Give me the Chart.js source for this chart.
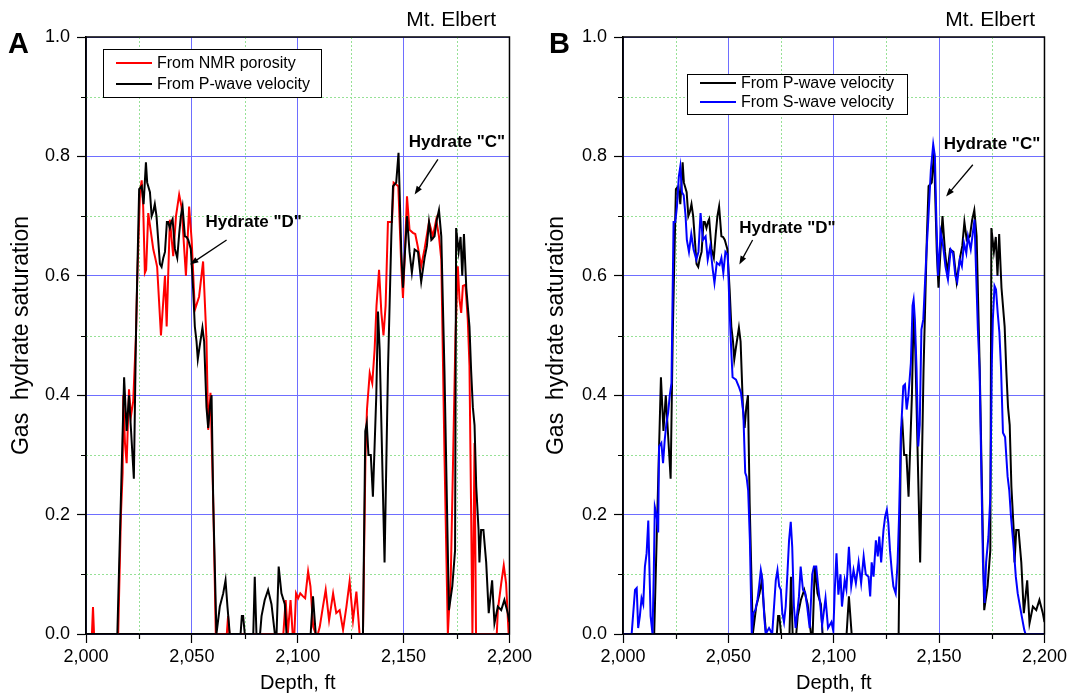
<!DOCTYPE html>
<html>
<head>
<meta charset="utf-8">
<script src="https://cdn.jsdelivr.net/npm/chart.js@4.4.1/dist/chart.umd.min.js"></script>
<style>
  body { margin: 0; background: #fff; }
  .panel { position: absolute; top: 0; width: 535px; height: 699px; }
</style>
</head>
<body>
<div class="panel" style="left:0"><canvas id="chartA" width="535" height="699"></canvas></div>
<div class="panel" style="left:535px"><canvas id="chartB" width="535" height="699"></canvas></div>
<script>
// [depth ft, gas hydrate saturation]
const pWave = [[2000,0],[2014.8,0],[2016.8,0.27],[2018,0.43],[2019.2,0.34],[2020.3,0.40],[2022.6,0.26],[2023.6,0.50],[2024.2,0.60],[2025.1,0.745],[2026.3,0.75],[2027.2,0.72],[2028.3,0.79],[2028.9,0.756],[2030.2,0.74],[2031,0.70],[2031.8,0.708],[2032.5,0.72],[2033.3,0.70],[2034.1,0.66],[2034.9,0.62],[2035.7,0.615],[2036.5,0.63],[2037.3,0.64],[2038.2,0.69],[2038.8,0.69],[2039.6,0.68],[2040.3,0.69],[2040.9,0.695],[2042,0.645],[2043.1,0.63],[2044,0.67],[2044.8,0.70],[2045.6,0.716],[2046.7,0.666],[2047.5,0.665],[2048.3,0.66],[2049.5,0.645],[2050.6,0.577],[2051.4,0.515],[2052.2,0.49],[2052.8,0.46],[2053.6,0.48],[2055,0.513],[2055.8,0.49],[2056.9,0.38],[2057.7,0.345],[2058.5,0.38],[2059.3,0.40],[2060.1,0.22],[2061.6,0],[2063.2,0.046],[2064.8,0.068],[2065.9,0.09],[2066.8,0.046],[2067.9,0],[2073,0],[2073.6,0.03],[2074.2,0.03],[2075,0],[2079,0],[2079.7,0.096],[2080.5,0],[2082.2,0],[2082.9,0.03],[2084.4,0.057],[2086,0.074],[2087.6,0.05],[2089.2,0],[2090,0],[2091,0.113],[2092.3,0.068],[2093.9,0.05],[2094.7,0],[2106.1,0],[2107.2,0.063],[2108.5,0],[2130.8,0],[2131.9,0.34],[2132.6,0.353],[2133.4,0.30],[2134.5,0.30],[2135.5,0.23],[2137.1,0.40],[2137.9,0.54],[2138.7,0.476],[2141,0.12],[2142.6,0.44],[2144.2,0.666],[2145,0.75],[2146.5,0.756],[2147.6,0.806],[2148.9,0.64],[2149.7,0.58],[2151.6,0.70],[2152.8,0.64],[2153.9,0.605],[2155.2,0.644],[2156.8,0.64],[2158.3,0.59],[2159.9,0.63],[2161,0.65],[2162,0.69],[2163.1,0.66],[2164.6,0.666],[2165.7,0.694],[2166.7,0.71],[2167.8,0.666],[2169.3,0.44],[2171.4,0.04],[2173,0.08],[2174.3,0.14],[2174.8,0.68],[2176,0.64],[2176.9,0.665],[2177.7,0.60],[2178.5,0.67],[2179.6,0.58],[2181.1,0.515],[2181.9,0.44],[2182.7,0.38],[2183.5,0.35],[2184.3,0.247],[2185.4,0.174],[2185.8,0.12],[2186.6,0.174],[2187.7,0.174],[2189,0.12],[2190.2,0.035],[2191.8,0.09],[2192.9,0.018],[2194.5,0.046],[2196.1,0.04],[2197.6,0.057],[2199.2,0.035],[2200,0.02]];

const nmr = [[2000,0],[2002.8,0],[2003.3,0.045],[2003.8,0],[2015.2,0],[2016.5,0.2],[2017.3,0.27],[2017.6,0.40],[2018.4,0.32],[2019.2,0.286],[2020.3,0.41],[2021.2,0.364],[2022.3,0.39],[2023.6,0.50],[2024.2,0.593],[2025.5,0.74],[2026.3,0.76],[2027,0.716],[2027.8,0.605],[2028.4,0.61],[2029.4,0.705],[2030.5,0.677],[2031.8,0.644],[2032.7,0.63],[2033.6,0.615],[2035.4,0.50],[2037.3,0.60],[2038.1,0.515],[2039.6,0.694],[2041.2,0.633],[2042.5,0.70],[2044,0.736],[2045.1,0.716],[2047.2,0.60],[2048.7,0.716],[2049.9,0.66],[2051.4,0.543],[2053.4,0.565],[2055.3,0.624],[2056.9,0.493],[2057.7,0.342],[2058.8,0.404],[2060.1,0.22],[2061.3,0],[2066.5,0],[2067.1,0.03],[2067.7,0],[2093.2,0],[2094.3,0.057],[2095.3,0],[2096.6,0.057],[2097.6,0],[2098.4,0],[2099.2,0.068],[2100.2,0.06],[2101.2,0.068],[2102.5,0.063],[2103.5,0.06],[2104.9,0.105],[2106,0.08],[2107.3,0.012],[2108.5,0],[2109.5,0],[2110.4,0.012],[2111.9,0.046],[2113.2,0.074],[2114.8,0.023],[2116.7,0.068],[2118.2,0.035],[2119.8,0.04],[2121.4,0.007],[2123,0.046],[2124.5,0.088],[2126.1,0.023],[2127.7,0.071],[2129.2,0],[2130.8,0],[2132,0.3],[2132.7,0.376],[2134,0.437],[2135.2,0.42],[2136.3,0.476],[2137.2,0.55],[2138.4,0.61],[2139.5,0.538],[2140.5,0.50],[2141.5,0.55],[2142.6,0.69],[2143.5,0.69],[2144.5,0.69],[2145.3,0.756],[2146.5,0.753],[2147.5,0.75],[2148.9,0.616],[2149.7,0.563],[2150.5,0.63],[2151.6,0.733],[2152.8,0.677],[2154.4,0.672],[2155.5,0.67],[2156.8,0.647],[2158.3,0.616],[2159.9,0.645],[2162,0.69],[2162.8,0.68],[2163.8,0.666],[2165.4,0.694],[2166.7,0.666],[2167.8,0.627],[2169.3,0.3],[2170.9,0],[2172.3,0.1],[2173.3,0.28],[2174.5,0.5],[2175.6,0.616],[2176.4,0.56],[2177.2,0.538],[2178,0.583],[2179.2,0.585],[2180.3,0.527],[2181.1,0.45],[2181.9,0.2],[2182.5,0],[2183,0.15],[2183.5,0.32],[2184.2,0],[2194,0],[2194.5,0.04],[2196.1,0.085],[2197.3,0.115],[2198.4,0.085],[2199.6,0],[2200,0]];

const sWave = [[2000,0],[2004.1,0],[2005.7,0.074],[2006.5,0.077],[2007.2,0.01],[2008,0.03],[2008.8,0.06],[2009.6,0.05],[2010.4,0.113],[2011.2,0.135],[2012,0.19],[2012.4,0.13],[2013.1,0.03],[2014,0],[2014.6,0.1],[2015.1,0.213],[2015.9,0.2],[2016.7,0.17],[2017.1,0.314],[2018.2,0.32],[2019,0.286],[2019.8,0.325],[2020.6,0.353],[2021.4,0.37],[2022.2,0.40],[2023,0.42],[2023.4,0.53],[2024,0.69],[2024.8,0.69],[2025.6,0.716],[2026.5,0.766],[2027.2,0.783],[2028,0.74],[2028.8,0.735],[2029.7,0.70],[2030.3,0.66],[2031.3,0.64],[2032.4,0.67],[2033.5,0.644],[2034.8,0.627],[2035.8,0.64],[2036.8,0.705],[2037.9,0.66],[2039.2,0.666],[2040.2,0.627],[2041.4,0.65],[2042.6,0.61],[2043.4,0.588],[2044.5,0.622],[2045.8,0.618],[2046.7,0.63],[2047.6,0.605],[2048.6,0.64],[2049.7,0.635],[2050.5,0.55],[2051.3,0.48],[2052,0.43],[2053.6,0.426],[2054.9,0.415],[2056,0.404],[2057.1,0.37],[2058,0.27],[2058.6,0.264],[2059.4,0.24],[2060.2,0.158],[2061.1,0],[2061.8,0.035],[2062.8,0.04],[2063.8,0.057],[2064.6,0.08],[2065.4,0.107],[2066.2,0.09],[2067,0.03],[2067.7,0],[2069.3,0.01],[2070.8,0],[2072.5,0.09],[2073.3,0.107],[2074.1,0.08],[2074.9,0.074],[2075.6,0.035],[2076.4,0.02],[2077.2,0.046],[2078,0.1],[2078.8,0.157],[2079.6,0.188],[2080.3,0.146],[2081.1,0.046],[2081.9,0.01],[2083.5,0.063],[2084.3,0.113],[2085.4,0.074],[2086.4,0.07],[2087.4,0.046],[2088.6,0.01],[2089.8,0.1],[2090.6,0.113],[2091.7,0.113],[2092.6,0.08],[2093.7,0.046],[2094.5,0.015],[2096.1,0.06],[2097.3,0.01],[2098.9,0.02],[2099.8,0.005],[2100.5,0.074],[2101.3,0.135],[2102.2,0.066],[2103.2,0.1],[2103.9,0.046],[2105.2,0.09],[2106,0.075],[2107.2,0.146],[2108.3,0.08],[2109.4,0.107],[2110.5,0.085],[2111.8,0.12],[2113,0.085],[2114.2,0.13],[2115.2,0.1],[2116.5,0.096],[2117.3,0.063],[2118,0.12],[2118.9,0.096],[2120,0.157],[2120.9,0.13],[2121.6,0.163],[2122.5,0.12],[2123.6,0.174],[2124.4,0.197],[2125.2,0.208],[2125.9,0.186],[2126.7,0.14],[2127.5,0.107],[2128.3,0.08],[2129.4,0.068],[2130.3,0.12],[2131,0.197],[2131.9,0.337],[2133,0.415],[2133.8,0.418],[2134.6,0.376],[2135.4,0.398],[2136.6,0.454],[2137.4,0.55],[2137.9,0.56],[2138.5,0.527],[2139.3,0.443],[2140.1,0.314],[2140.8,0.35],[2141.6,0.51],[2142.5,0.527],[2144,0.64],[2144.8,0.69],[2146.1,0.778],[2147.2,0.82],[2148,0.80],[2148.7,0.694],[2149.5,0.60],[2150.8,0.672],[2151.9,0.65],[2153,0.616],[2154.2,0.594],[2155.5,0.644],[2156.6,0.638],[2157.7,0.60],[2158.6,0.59],[2159.8,0.627],[2160.8,0.616],[2161.8,0.655],[2162.9,0.638],[2163.7,0.666],[2165,0.644],[2166,0.672],[2166.8,0.694],[2167.6,0.60],[2168.4,0.51],[2169.2,0.443],[2170.8,0.12],[2171.6,0.052],[2172.3,0.12],[2173.4,0.163],[2174.3,0.23],[2175,0.45],[2175.5,0.527],[2176.3,0.583],[2177,0.577],[2177.8,0.538],[2178.6,0.505],[2179.4,0.443],[2180.3,0.337],[2181.3,0.33],[2182.5,0.264],[2183.3,0.24],[2184.1,0.197],[2185,0.16],[2185.7,0.13],[2186.4,0.096],[2187.3,0.068],[2188.2,0.05],[2189.2,0.03],[2190.4,0.007],[2191,0],[2200,0]];

const depthTicks = [2000, 2050, 2100, 2150, 2200];
const depthMinor = [2025, 2075, 2125, 2175];
const satTicks = [0, 0.2, 0.4, 0.6, 0.8, 1.0];
const satMinor = [0.1, 0.3, 0.5, 0.7, 0.9];

const FONT = "'Liberation Sans', Arial, sans-serif";
const RED = 'rgb(255,0,0)';
const BLUE = 'rgb(0,0,255)';
const BLACK = '#000';

const toXY = arr => arr.map(([x, y]) => ({ x, y }));

// dotted green minor grid + short minor ticks
const minorGrid = {
    id: 'minorGrid',
    beforeDatasetsDraw(chart) {
        const { ctx, chartArea: a, scales: { x, y } } = chart;
        ctx.save();
        ctx.strokeStyle = 'rgb(150,225,150)';
        ctx.lineWidth = 1;
        ctx.setLineDash([2, 2]);
        ctx.beginPath();
        depthMinor.forEach(v => {
            const px = Math.round(x.getPixelForValue(v)) + 0.5;
            ctx.moveTo(px, a.top); ctx.lineTo(px, a.bottom);
        });
        satMinor.forEach(v => {
            const py = Math.round(y.getPixelForValue(v)) + 0.5;
            ctx.moveTo(a.left, py); ctx.lineTo(a.right, py);
        });
        ctx.stroke();
        ctx.setLineDash([]);
        ctx.strokeStyle = '#000';
        ctx.lineWidth = 1.2;
        ctx.beginPath();
        depthMinor.forEach(v => {
            const px = Math.round(x.getPixelForValue(v)) + 0.5;
            ctx.moveTo(px, a.bottom); ctx.lineTo(px, a.bottom + 5);
        });
        satMinor.forEach(v => {
            const py = Math.round(y.getPixelForValue(v)) + 0.5;
            ctx.moveTo(a.left - 5, py); ctx.lineTo(a.left, py);
        });
        ctx.stroke();
        ctx.restore();
    }
};

// frame, legend box, panel letter, site name, hydrate notes
const decorations = {
    id: 'decorations',
    afterDraw(chart, args, o) {
        const { ctx, chartArea: a, scales: { x, y } } = chart;
        ctx.save();
        ctx.strokeStyle = '#000';
        ctx.lineWidth = 1.5;
        ctx.strokeRect(a.left, a.top, a.right - a.left, a.bottom - a.top);

        // legend
        const L = o.legend;
        ctx.fillStyle = '#fff';
        ctx.fillRect(L.x, L.y, L.w, L.h);
        ctx.lineWidth = 1;
        ctx.strokeRect(L.x + 0.5, L.y + 0.5, L.w, L.h);
        ctx.font = '16px ' + FONT;
        ctx.textBaseline = 'middle';
        ctx.textAlign = 'left';
        chart.data.datasets.forEach((ds, i) => {
            const ry = L.rows[i];
            ctx.strokeStyle = ds.borderColor;
            ctx.lineWidth = 2;
            ctx.beginPath();
            ctx.moveTo(L.x + 13, ry); ctx.lineTo(L.x + 49, ry);
            ctx.stroke();
            ctx.fillStyle = '#000';
            ctx.fillText(ds.label, L.x + 54, ry + 1);
        });

        // panel letter and site
        ctx.fillStyle = '#000';
        ctx.textBaseline = 'alphabetic';
        ctx.font = 'bold 29px ' + FONT;
        ctx.fillText(o.letter.text, o.letter.x, o.letter.y);
        ctx.font = '21px ' + FONT;
        ctx.textAlign = 'right';
        ctx.fillText('Mt. Elbert', o.site.x, o.site.y);

        // notes with arrows
        o.notes.forEach(n => {
            ctx.font = 'bold 17px ' + FONT;
            ctx.textAlign = 'center';
            ctx.textBaseline = 'middle';
            ctx.fillText(n.text, x.getPixelForValue(n.at[0]), y.getPixelForValue(n.at[1]));
            const x1 = x.getPixelForValue(n.from[0]), y1 = y.getPixelForValue(n.from[1]);
            const x2 = x.getPixelForValue(n.to[0]), y2 = y.getPixelForValue(n.to[1]);
            const ang = Math.atan2(y2 - y1, x2 - x1);
            ctx.strokeStyle = '#000';
            ctx.lineWidth = 1.3;
            ctx.beginPath();
            ctx.moveTo(x1, y1);
            ctx.lineTo(x2 - 6 * Math.cos(ang), y2 - 6 * Math.sin(ang));
            ctx.stroke();
            ctx.beginPath();
            ctx.moveTo(x2, y2);
            ctx.lineTo(x2 - 9 * Math.cos(ang - 0.35), y2 - 9 * Math.sin(ang - 0.35));
            ctx.lineTo(x2 - 9 * Math.cos(ang + 0.35), y2 - 9 * Math.sin(ang + 0.35));
            ctx.closePath();
            ctx.fillStyle = '#000';
            ctx.fill();
        });
        ctx.restore();
    }
};

function makeChart(id, datasets, opts) {
    const grid = {
        color: 'rgb(110,110,255)',
        lineWidth: 1,
        tickLength: 9,
        tickColor: '#000',
        tickWidth: 1.2
    };
    return new Chart(document.getElementById(id), {
        type: 'line',
        data: { datasets },
        options: {
            responsive: false,
            animation: false,
            events: [],
            layout: { padding: { top: 37, right: opts.right, bottom: 0, left: 0 } },
            elements: {
                point: { radius: 0 },
                line: { borderWidth: 2, tension: 0 }
            },
            plugins: {
                legend: { display: false },
                tooltip: { enabled: false },
                decorations: opts.deco
            },
            scales: {
                x: {
                    type: 'linear',
                    min: 2000,
                    max: 2200,
                    afterBuildTicks: s => { s.ticks = depthTicks.map(v => ({ value: v })); },
                    afterFit: s => { s.height = 65; },
                    grid,
                    border: { color: '#000', width: 1.5 },
                    ticks: {
                        color: '#000',
                        font: { family: FONT, size: 18 },
                        padding: 3,
                        maxRotation: 0,
                        callback: v => v.toLocaleString('en-US')
                    },
                    title: {
                        display: true,
                        text: 'Depth, ft',
                        color: '#000',
                        font: { family: FONT, size: 20 },
                        padding: { top: 0, bottom: 4 }
                    }
                },
                y: {
                    type: 'linear',
                    min: 0,
                    max: 1,
                    afterBuildTicks: s => { s.ticks = satTicks.map(v => ({ value: v })); },
                    afterFit: s => { s.width = opts.axisWidth; },
                    grid,
                    border: { color: '#000', width: 1.5 },
                    ticks: {
                        color: '#000',
                        font: { family: FONT, size: 18 },
                        padding: 7,
                        callback: v => v.toFixed(1)
                    },
                    title: {
                        display: true,
                        text: 'Gas  hydrate saturation',
                        color: '#000',
                        font: { family: FONT, size: 23 },
                        padding: { top: 8, bottom: 0 }
                    }
                }
            }
        },
        plugins: [minorGrid, decorations]
    });
}

makeChart('chartA', [
    { label: 'From NMR porosity', data: toXY(nmr), borderColor: RED, order: 2 },
    { label: 'From P-wave velocity', data: toXY(pWave), borderColor: BLACK, order: 1 }
], {
    right: 25,
    axisWidth: 86,
    deco: {
        legend: { x: 103, y: 49, w: 218, h: 48, rows: [63, 84] },
        letter: { text: 'A', x: 8, y: 53 },
        site: { x: 496, y: 26 },
        notes: [
            { text: 'Hydrate "D"', at: [2079.2, 0.69], from: [2066.4, 0.66], to: [2049.1, 0.619] },
            { text: 'Hydrate "C"', at: [2175.2, 0.824], from: [2166.2, 0.795], to: [2155.2, 0.736] }
        ]
    }
});

makeChart('chartB', [
    { label: 'From P-wave velocity', data: toXY(pWave), borderColor: BLACK, order: 2 },
    { label: 'From S-wave velocity', data: toXY(sWave), borderColor: BLUE, order: 1 }
], {
    right: 23,
    axisWidth: 88,
    deco: {
        legend: { x: 152, y: 74, w: 220, h: 40, rows: [83, 102] },
        letter: { text: 'B', x: 14, y: 53 },
        site: { x: 500, y: 26 },
        notes: [
            { text: 'Hydrate "D"', at: [2078, 0.679], from: [2061.5, 0.66], to: [2055.2, 0.619] },
            { text: 'Hydrate "C"', at: [2175.1, 0.821], from: [2166, 0.786], to: [2153.3, 0.733] }
        ]
    }
});
</script>
</body>
</html>
